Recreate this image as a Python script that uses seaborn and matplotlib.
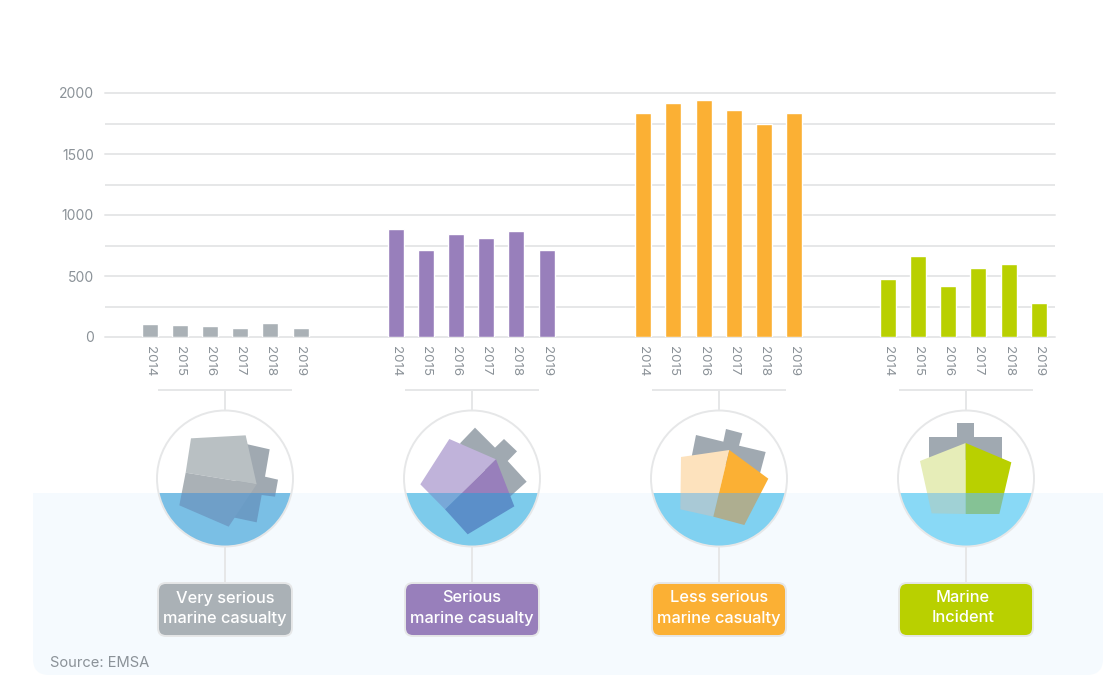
import matplotlib
matplotlib.use("Agg")
import matplotlib.pyplot as plt
from matplotlib.patches import Circle, FancyBboxPatch, Polygon, Rectangle
import pandas as pd
import seaborn as sns

# Data
years = ["2014", "2015", "2016", "2017", "2018", "2019"]
very_serious = [107, 102, 92, 77, 117, 70]
serious = [882, 717, 842, 808, 872, 717]
less_serious = [1832, 1922, 1940, 1857, 1742, 1832]
incident = [472, 662, 422, 562, 602, 277]

categories = ["Very serious\nmarine casualty", "Serious\nmarine casualty",
              "Less serious\nmarine casualty", "Marine\nIncident"]
series = [very_serious, serious, less_serious, incident]
colors = ["#aab1b6", "#987fbb", "#fbb034", "#b9d000"]
waters = ["#7abfe5", "#7dcbeb", "#80d1f1", "#89d9f6"]

W, H = 1111, 694
LINE = "#e6e7e8"
TEXT = "#8b9298"
WATERLINE = 493
STEP = 30.2
FIRST_BAR = 149.5
group_starts = [0, 8.15, 16.35, 24.45]  # slot offset of each group
centers = [225, 472, 719, 966]
zoom_left = [130, 380, 625, 875]  # ship outlines below were traced in 3x crops

SUPER = "#a0a9b1"
ships = [
    [([(340, 190), (419, 208), (405, 290), (444, 299), (435, 350), (395, 345), (380, 427), (300, 410)], SUPER, "#6b9cc5"),
     ([(183, 175), (347, 166), (380, 313), (167, 278)], "#b9c0c3", "#b9c0c3"),
     ([(167, 278), (380, 313), (296, 440), (148, 376)], "#aab1b6", "#6f9fc8")],
    [([(285, 143), (345, 203), (372, 177), (411, 214), (383, 243), (440, 305), (390, 350), (240, 190)], SUPER, "#6b9cc5"),
     ([(208, 177), (348, 238), (195, 388), (121, 313)], "#c0b3da", "#78a8d8"),
     ([(348, 238), (403, 379), (263, 463), (195, 388)], "#987fbb", "#5b8fc9")],
    [([(213, 165), (295, 185), (303, 147), (352, 160), (342, 197), (422, 216), (405, 280), (200, 230)], SUPER, SUPER),
     ([(168, 231), (313, 210), (265, 410), (166, 388)], "#fde2bd", "#a9c9d6"),
     ([(313, 210), (430, 296), (358, 435), (265, 410)], "#fbb034", "#aeae90")],
    [([(162, 170), (246, 170), (246, 129), (298, 129), (298, 170), (382, 170), (382, 240), (162, 240)], SUPER, SUPER),
     ([(272, 189), (272, 402), (170, 400), (135, 243)], "#e6edb8", "#a0d1d5"),
     ([(272, 189), (409, 247), (373, 402), (272, 402)], "#b9d000", "#85c295")],
]

rows = []
for g, values in enumerate(series):
    for i, v in enumerate(values):
        rows.append({"slot": group_starts[g] + i, "value": v, "category": categories[g]})
df = pd.DataFrame(rows)

sns.set_theme(style="white")
plt.rcParams["font.family"] = ["Inter", "DejaVu Sans"]

fig = plt.figure(figsize=(W / 100, H / 100), dpi=100, facecolor="white")

# Decoration layer in pixel coordinates
deco = fig.add_axes([0, 0, 1, 1])
deco.set_xlim(0, W)
deco.set_ylim(H, 0)
deco.axis("off")

back = FancyBboxPatch((33 + 16, 420), 1070 - 32, 255 - 16, boxstyle="round,pad=16,rounding_size=16",
                      fc="#f5fafe", ec="none", zorder=1)
deco.add_patch(back)
back.set_clip_path(Rectangle((0, WATERLINE), W, H, transform=deco.transData))

for g, cx in enumerate(centers):
    cy, r = 478.5, 68
    deco.plot([cx - 67, cx + 67], [389.5, 389.5], color=LINE, lw=1.4, zorder=2, solid_capstyle="butt")
    deco.plot([cx, cx], [389.5, 411], color=LINE, lw=1.4, zorder=2, solid_capstyle="butt")
    deco.plot([cx, cx], [546, 583], color=LINE, lw=1.4, zorder=2, solid_capstyle="butt")

    deco.add_patch(Circle((cx, cy), r, fc="white", ec="none", zorder=2))
    water = Circle((cx, cy), r, fc=waters[g], ec="none", zorder=3)
    deco.add_patch(water)
    water.set_clip_path(Rectangle((0, WATERLINE), W, H, transform=deco.transData))

    above = Rectangle((0, 0), W, WATERLINE, transform=deco.transData)
    below = Rectangle((0, WATERLINE), W, H, transform=deco.transData)
    for pts, up, down in ships[g]:
        xy = [(x / 3 + zoom_left[g], y / 3 + 380) for x, y in pts]
        a = Polygon(xy, fc=up, ec="none", zorder=4)
        deco.add_patch(a)
        a.set_clip_path(above)
        b = Polygon(xy, fc=down, ec="none", zorder=4)
        deco.add_patch(b)
        b.set_clip_path(below)
    deco.add_patch(Circle((cx, cy), r, fc="none", ec=LINE, lw=1.4, zorder=5))

    deco.add_patch(FancyBboxPatch((cx - 67 + 8, 583 + 8), 134 - 16, 53 - 16,
                                  boxstyle="round,pad=8,rounding_size=8",
                                  fc=colors[g], ec=LINE, lw=1.4, zorder=5))
    first, second = categories[g].split("\n")
    shift = 3 if g == 3 else 0
    deco.text(cx - shift, 598, first, color="white", fontsize=11.8, fontweight="medium",
              ha="center", va="center", zorder=6)
    deco.text(cx - shift, 618, second, color="white", fontsize=11.8, fontweight="medium",
              ha="center", va="center", zorder=6)

deco.text(50, 663, "Source: EMSA", color=TEXT, fontsize=10.6, ha="left", va="center", zorder=6)

# Bar chart
ax = fig.add_axes([105 / W, 1 - 337 / H, 950 / W, 244 / H])
ax.patch.set_alpha(0)
sns.barplot(data=df, x="slot", y="value", hue="category", hue_order=categories, palette=colors,
            native_scale=True, dodge=False, legend=False, width=1.0, saturation=1, errorbar=None, ax=ax)
for bar in ax.patches:
    bar.set_x(bar.get_x() + bar.get_width() / 2 - 16 / STEP / 2)
    bar.set_width(16 / STEP)

ax.set_xlim((105 - FIRST_BAR) / STEP, (1055 - FIRST_BAR) / STEP)
ax.set_ylim(0, 2000)
ax.set_xlabel("")
ax.set_ylabel("")
sns.despine(ax=ax, left=True, bottom=True, top=True, right=True)

ax.set_yticks([0, 500, 1000, 1500, 2000])
ax.set_yticks([250, 750, 1250, 1750], minor=True)
ax.grid(True, axis="y", which="both", color=LINE, lw=1.4)
ax.set_axisbelow(True)
for line in ax.yaxis.get_gridlines():
    line.set_clip_on(False)
ax.tick_params(axis="y", which="both", length=0, pad=8, labelsize=10, labelcolor=TEXT)

slots = [s + i for s in group_starts for i in range(len(years))]
ax.set_xticks(slots)
ax.set_xticklabels(years * len(group_starts), rotation=270, ha="center", va="top")
ax.tick_params(axis="x", length=0, pad=6.5, labelsize=9.6, labelcolor=TEXT)

fig.savefig("out.png", dpi=100)
